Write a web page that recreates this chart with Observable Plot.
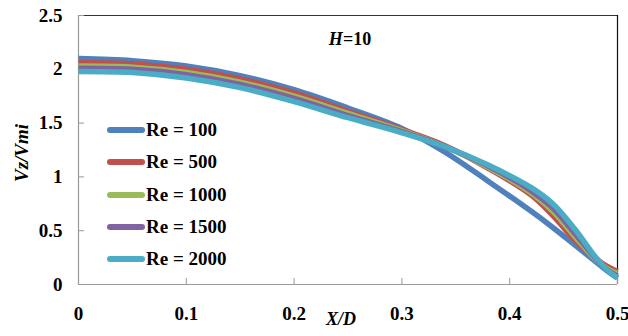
<!DOCTYPE html>
<html>
<head>
<meta charset="utf-8">
<script src="https://cdn.jsdelivr.net/npm/d3@7"></script>
<script src="https://cdn.jsdelivr.net/npm/@observablehq/plot@0.6"></script>
<style>
  html, body { margin: 0; padding: 0; background: #fff; }
  #wrap { position: relative; width: 628px; height: 336px; font-family: "Liberation Serif", "Times New Roman", serif; }
  #legend { position: absolute; left: 107px; top: 114px; }
  .item { position: absolute; left: 0; height: 32px; display: flex; align-items: center; white-space: nowrap; }
  .sw { width: 38px; height: 6px; border-radius: 3px; margin-right: 1px; }
  .lb { font-size: 19px; font-weight: bold; color: #000; }
  #title { position: absolute; left: 350px; top: 39px; transform: translate(-50%, -50%); font-size: 18px; font-weight: bold; white-space: nowrap; }
</style>
</head>
<body>
<div id="wrap"></div>
<script>
const xValues = [0, 0.05, 0.1, 0.15, 0.2, 0.25, 0.3, 0.34, 0.38, 0.42, 0.44, 0.46, 0.48, 0.49, 0.5];
const re100  = [2.10, 2.08, 2.03, 1.94, 1.81, 1.64, 1.45, 1.23, 0.96, 0.68, 0.53, 0.37, 0.21, 0.13, 0.06];
const re500  = [2.06, 2.05, 2.00, 1.91, 1.78, 1.61, 1.44, 1.29, 1.08, 0.83, 0.64, 0.42, 0.24, 0.17, 0.12];
const re1000 = [2.03, 2.02, 1.97, 1.88, 1.75, 1.59, 1.43, 1.28, 1.09, 0.85, 0.68, 0.45, 0.23, 0.15, 0.10];
const re1500 = [2.01, 2.00, 1.95, 1.86, 1.73, 1.57, 1.42, 1.28, 1.10, 0.87, 0.71, 0.48, 0.24, 0.14, 0.08];
const re2000 = [1.98, 1.97, 1.92, 1.83, 1.70, 1.55, 1.41, 1.28, 1.11, 0.90, 0.75, 0.52, 0.25, 0.14, 0.06];
const seriesNames = ["Re = 100", "Re = 500", "Re = 1000", "Re = 1500", "Re = 2000"];
const seriesColors = ["#4F81BD", "#C0504D", "#9BBB59", "#8064A2", "#4BACC6"];
const xTicks = [0, 0.1, 0.2, 0.3, 0.4, 0.5];
const yTicks = [0, 0.5, 1, 1.5, 2, 2.5];
const xLabel = "X/D";
const yLabel = "Vz/Vmi";

const allSeries = [re100, re500, re1000, re1500, re2000];
const rows = [];
allSeries.forEach((vals, i) => vals.forEach((v, j) => rows.push({x: xValues[j], y: v, s: seriesNames[i]})));

const font = "Liberation Serif";
const plot = Plot.plot({
  width: 628, height: 336,
  marginLeft: 78, marginRight: 11, marginTop: 15, marginBottom: 52,
  style: {fontFamily: font, fontSize: "19px", fontWeight: "bold", color: "#000", background: "#fff"},
  x: {domain: [0, 0.5], ticks: xTicks},
  y: {domain: [0, 2.5], ticks: yTicks},
  color: {domain: seriesNames, range: seriesColors},
  marks: [
    Plot.ruleY([2.5], {stroke: "#333", strokeWidth: 1}),
    Plot.ruleX([0.5], {stroke: "#111", strokeWidth: 1.2}),
    Plot.ruleX([0], {stroke: "#999", strokeWidth: 1.2}),
    Plot.ruleY([0], {stroke: "#999", strokeWidth: 1.2}),
    Plot.tickX(xTicks, {x: d => d, stroke: "#999", insetTop: 263}),
    Plot.tickY(yTicks, {y: d => d, stroke: "#999", insetRight: 533}),
    Plot.axisX(xTicks, {tickSize: 0, tickPadding: 22, label: null, fontSize: 19, fontWeight: "bold", tickFormat: d => String(d)}),
    Plot.axisY(yTicks, {tickSize: 0, tickPadding: 16, label: null, fontSize: 19, fontWeight: "bold", tickFormat: d => String(d)}),
    Plot.line(rows, {x: "x", y: "y", z: "s", stroke: "s", strokeWidth: 5.5, curve: "catmull-rom", strokeLinecap: "butt"}),
    Plot.text([xLabel], {text: d => d, frameAnchor: "bottom", dx: -7, dy: 40, fontSize: 18, fontWeight: "bold", fontStyle: "italic"}),
    Plot.text([yLabel], {text: d => d, frameAnchor: "left", dx: -57, dy: 32, rotate: -90, fontSize: 19, fontWeight: "bold", fontStyle: "italic"})
  ]
});

const wrap = document.getElementById("wrap");
wrap.appendChild(plot);

const legend = document.createElement("div");
legend.id = "legend";
seriesNames.forEach((name, i) => {
  const item = document.createElement("div");
  item.className = "item";
  item.style.top = (i * 32.3) + "px";
  const sw = document.createElement("div");
  sw.className = "sw";
  sw.style.background = seriesColors[i];
  const lb = document.createElement("span");
  lb.className = "lb";
  lb.textContent = name;
  item.appendChild(sw);
  item.appendChild(lb);
  legend.appendChild(item);
});
wrap.appendChild(legend);

const title = document.createElement("div");
title.id = "title";
title.innerHTML = "<i>H</i>=10";
wrap.appendChild(title);
</script>
</body>
</html>
